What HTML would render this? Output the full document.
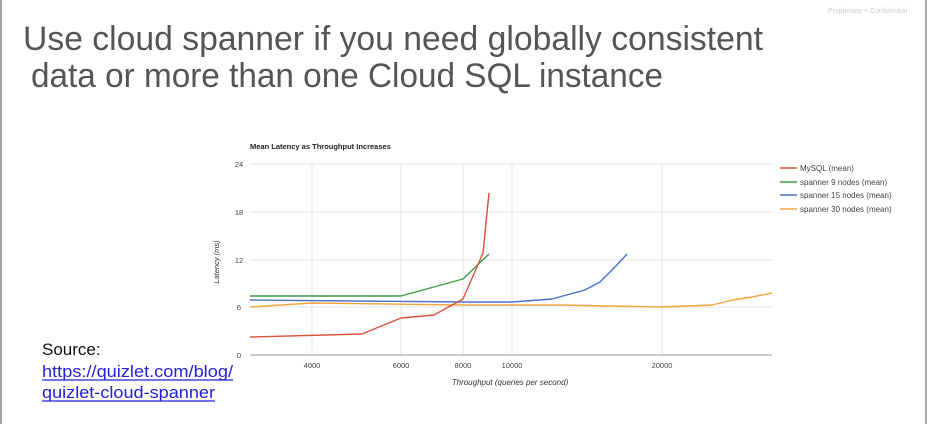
<!DOCTYPE html>
<html><head><meta charset="utf-8"><style>
html,body{margin:0;padding:0;background:#fff;width:930px;height:424px;overflow:hidden}
svg{display:block;font-family:"Liberation Sans",sans-serif}
</style></head><body>
<svg width="930" height="424" viewBox="0 0 930 424">
<rect x="0" y="0" width="930" height="424" fill="#fff"/>
<line x1="1" y1="0" x2="1" y2="424" stroke="#888" stroke-width="1.5"/>
<line x1="926" y1="0" x2="926" y2="424" stroke="#888" stroke-width="1.5"/>
<text x="907" y="13" font-size="7" fill="#ccc" text-anchor="end">Proprietary + Confidential</text>
<text x="23" y="50" font-size="34" fill="#555" textLength="740" lengthAdjust="spacingAndGlyphs">Use cloud spanner if you need globally consistent</text>
<text x="31" y="87" font-size="34" fill="#555" textLength="632" lengthAdjust="spacingAndGlyphs">data or more than one Cloud SQL instance</text>

<text x="42" y="355" font-size="17" fill="#111">Source:</text>
<text x="42" y="377" font-size="17" fill="#2222dd" textLength="191" lengthAdjust="spacingAndGlyphs">https://quizlet.com/blog/</text>
<text x="42" y="398" font-size="17" fill="#2222dd" textLength="173" lengthAdjust="spacingAndGlyphs">quizlet-cloud-spanner</text>
<line x1="42" y1="380" x2="233" y2="380" stroke="#2222dd" stroke-width="1.2"/>
<line x1="42" y1="401" x2="215" y2="401" stroke="#2222dd" stroke-width="1.2"/>

<text x="250" y="149" font-size="7.5" font-weight="bold" fill="#222">Mean Latency as Throughput Increases</text>
<g stroke="#e4e4e4" stroke-width="1">
<line x1="250" y1="164" x2="772" y2="164"/>
<line x1="250" y1="212" x2="772" y2="212"/>
<line x1="250" y1="260" x2="772" y2="260"/>
<line x1="250" y1="307" x2="772" y2="307"/>
<line x1="312" y1="164" x2="312" y2="355"/>
<line x1="401" y1="164" x2="401" y2="355"/>
<line x1="463" y1="164" x2="463" y2="355"/>
<line x1="512" y1="164" x2="512" y2="355"/>
<line x1="662" y1="164" x2="662" y2="355"/>
</g>
<line x1="250" y1="355" x2="772" y2="355" stroke="#999" stroke-width="1"/>
<g font-size="7.5" fill="#444" text-anchor="middle">
<text x="239" y="167">24</text><text x="239" y="215">18</text><text x="239" y="263">12</text><text x="239" y="310">6</text><text x="239" y="358">0</text>
<text x="312" y="368">4000</text><text x="401" y="368">6000</text><text x="463" y="368">8000</text><text x="512" y="368">10000</text><text x="662" y="368">20000</text>
</g>
<text x="510" y="385" font-size="8" font-style="italic" fill="#333" text-anchor="middle">Throughput (queries per second)</text>
<text transform="translate(219,262) rotate(-90)" font-size="7.5" font-style="italic" fill="#333" text-anchor="middle">Latency (ms)</text>
<g fill="none" stroke-width="1.4" stroke-linejoin="round">
<polyline stroke="#f4a340" points="250,307 312,303 463,305 560,305 662,307 712,305 733,300 752,297 772,293"/>
<polyline stroke="#4a72cc" points="250,300 463,302 512,302 552,299 585,290 600,282 615,267 627,254"/>
<polyline stroke="#3f9a47" points="250,296 401,296 463,279 489,254"/>
<polyline stroke="#d9533b" points="250,337 362,334 401,318 434,315 463,299 483,253 489,193"/>
</g>
<g font-size="8" fill="#444">
<line x1="780" y1="168" x2="797" y2="168" stroke="#d9533b" stroke-width="1.4"/><text x="800" y="171">MySQL (mean)</text>
<line x1="780" y1="182" x2="797" y2="182" stroke="#3f9a47" stroke-width="1.4"/><text x="800" y="185">spanner 9 nodes (mean)</text>
<line x1="780" y1="195" x2="797" y2="195" stroke="#4a72cc" stroke-width="1.4"/><text x="800" y="198">spanner 15 nodes (mean)</text>
<line x1="780" y1="209" x2="797" y2="209" stroke="#f4a340" stroke-width="1.4"/><text x="800" y="212">spanner 30 nodes (mean)</text>
</g>
</svg>
</body></html>
